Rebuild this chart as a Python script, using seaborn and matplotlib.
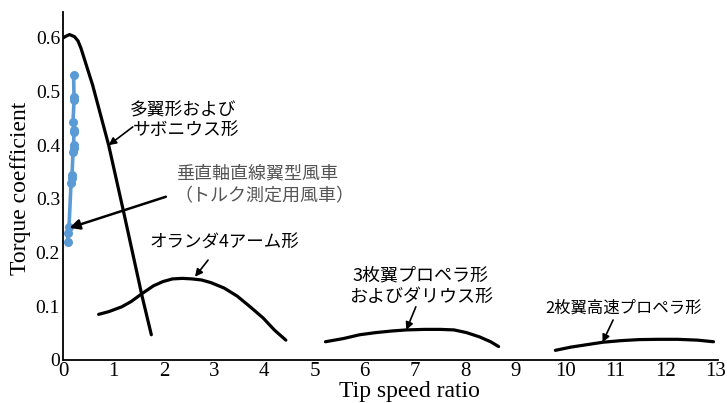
import matplotlib
matplotlib.use("Agg")
import matplotlib.pyplot as plt
import seaborn as sns

# ---------------- data ----------------
# multi-blade / Savonius
sav_x = [0.00, 0.03, 0.12, 0.22, 0.29, 0.35, 0.58, 0.90, 1.19, 1.57, 1.75]
sav_y = [0.600, 0.602, 0.606, 0.602, 0.594, 0.580, 0.512, 0.400, 0.279, 0.117, 0.047]

# Dutch 4-arm
dut_x = [0.70, 0.90, 1.16, 1.35, 1.57, 1.79, 1.98, 2.17, 2.37, 2.56, 2.75, 2.94,
         3.20, 3.46, 3.72, 3.98, 4.20, 4.43]
dut_y = [0.085, 0.090, 0.099, 0.109, 0.124, 0.138, 0.146, 0.151, 0.152, 0.151,
         0.149, 0.144, 0.134, 0.119, 0.099, 0.078, 0.056, 0.037]

# 3-blade propeller & Darrieus
thr_x = [5.22, 5.58, 5.90, 6.22, 6.54, 6.83, 7.19, 7.51, 7.78, 8.03, 8.29, 8.51, 8.67]
thr_y = [0.034, 0.040, 0.047, 0.051, 0.054, 0.056, 0.057, 0.057, 0.056, 0.051,
         0.043, 0.034, 0.025]

# 2-blade high-speed propeller
two_x = [9.80, 10.11, 10.39, 10.74, 11.10, 11.47, 11.85, 12.23, 12.63, 12.95]
two_y = [0.018, 0.024, 0.028, 0.033, 0.036, 0.038, 0.0385, 0.0385, 0.037, 0.034]

# measured vertical-axis straight-blade turbine (blue)
vw_x = [0.08, 0.09, 0.11, 0.15, 0.16, 0.17, 0.19, 0.20, 0.20, 0.21, 0.21, 0.19,
        0.21, 0.21, 0.20]
vw_y = [0.220, 0.236, 0.248, 0.329, 0.338, 0.345, 0.388, 0.394, 0.400, 0.425,
        0.428, 0.444, 0.484, 0.490, 0.531]

x_ticks = list(range(14))
x_tick_labels = [str(i) for i in x_ticks]
y_ticks = [0, 0.1, 0.2, 0.3, 0.4, 0.5, 0.6]
y_tick_labels = ["0", "0.1", "0.2", "0.3", "0.4", "0.5", "0.6"]

# ---------------- style ----------------
sns.set_theme(style="white")
plt.rcParams["font.family"] = ["Liberation Serif", "DejaVu Sans"]
JP = ["Noto Sans CJK JP", "DejaVu Sans"]

fig = plt.figure(figsize=(7.27, 4.03), dpi=100)
fig.patch.set_facecolor("white")
ax = fig.add_axes([63.5 / 727, 43 / 403, 654 / 727, 348 / 403])
ax.set_facecolor("white")

for cx, cy in [(sav_x, sav_y), (dut_x, dut_y), (thr_x, thr_y), (two_x, two_y)]:
    sns.lineplot(x=cx, y=cy, ax=ax, color="black", lw=2.3, sort=False,
                 estimator=None)

sns.lineplot(x=vw_x, y=vw_y, ax=ax, sort=False, estimator=None,
             color="#5B9BD5", lw=2.6, marker="o", markersize=6.5,
             markeredgewidth=0)

ax.set_xlim(0, 13.03)
ax.set_ylim(0, 0.648)
ax.set_xticks(x_ticks)
ax.set_xticklabels(x_tick_labels)
ax.set_yticks(y_ticks)
ax.set_yticklabels(y_tick_labels)
ax.tick_params(direction="in", length=4, width=1.1, color="black",
               labelcolor="black")
ax.tick_params(axis="x", labelsize=15, pad=1.5)
ax.tick_params(axis="y", labelsize=14, pad=2.5)
for s in ["top", "right"]:
    ax.spines[s].set_visible(False)
for s in ["left", "bottom"]:
    ax.spines[s].set_color("black")
    ax.spines[s].set_linewidth(1.3)

ax.set_xlabel("Tip speed ratio", fontsize=17, color="black")
ax.xaxis.set_label_coords(0.529, -0.091)
ax.xaxis.label.set_va("center")
ax.set_ylabel("Torque coefficient", fontsize=17, color="black")
ax.yaxis.set_label_coords(-0.0665, 0.494)
ax.yaxis.label.set_va("center")

# ---------------- annotations ----------------
def label(x, y, s, size, ha="left", color="black"):
    ax.text(x, y, s, fontsize=size, family=JP, ha=ha, va="center", color=color)

def arrow(x0, y0, x1, y1, lw=1.2, ms=11):
    ax.annotate("", xy=(x1, y1), xytext=(x0, y0),
                arrowprops=dict(arrowstyle="-|>", color="black", lw=lw,
                                mutation_scale=ms, shrinkA=0, shrinkB=0))

label(1.32, 0.464, "多翼形および", 12.8)
label(1.38, 0.428, "サボニウス形", 12.8)
arrow(1.38, 0.434, 0.90, 0.400)

label(2.24, 0.348, "垂直軸直線翼型風車", 13, color="#555555")
label(2.22, 0.304, "（トルク測定用風車）", 13, color="#555555")
arrow(2.04, 0.304, 0.12, 0.246, lw=1.8, ms=15)

label(1.72, 0.218, "オランダ4アーム形", 12.6)
arrow(2.88, 0.186, 2.62, 0.155)

label(7.12, 0.158, "3枚翼プロペラ形", 13, ha="center")
label(7.12, 0.118, "およびダリウス形", 13, ha="center")
arrow(7.02, 0.099, 6.83, 0.056)

label(11.15, 0.097, "2枚翼高速プロペラ形", 11.8, ha="center")
arrow(10.95, 0.0745, 10.74, 0.033)

fig.savefig("out.png", dpi=100, facecolor="white")
